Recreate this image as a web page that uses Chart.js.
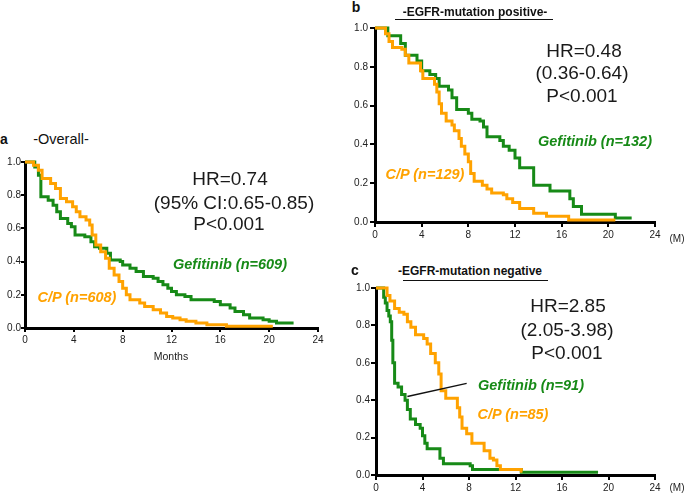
<!DOCTYPE html>
<html>
<head>
<meta charset="utf-8">
<title>Kaplan-Meier: Gefitinib vs C/P</title>
<script src="https://cdn.jsdelivr.net/npm/chart.js@4.4.1/dist/chart.umd.min.js"></script>
<style>
  body { margin: 0; width: 685px; height: 496px; position: relative; overflow: hidden; background: #fff;
         font-family: 'Liberation Sans', Arial, Helvetica, sans-serif; color: #111; }
  canvas { position: absolute; }
  .t { position: absolute; white-space: nowrap; transform: translate(-50%, -50%); line-height: 1; }
  .hr { font-size: 19px; color: #1a1a1a; }
  .lab { font-size: 14.5px; font-weight: bold; font-style: italic; }
  .gef { color: #178a17; }
  .cp { color: #ffa200; }
  .panel { font-size: 14px; font-weight: bold; }
  .sub { font-size: 12px; font-weight: bold; }
  .ul { position: absolute; height: 0; border-top: 1.5px solid #111; }
  .small { font-size: 10px; color: #222; }
</style>
</head>
<body>
<canvas id="chart-a" width="330" height="215" style="left:0px;top:150px"></canvas>
<canvas id="chart-b" width="325" height="235" style="left:345px;top:18px"></canvas>
<canvas id="chart-c" width="324" height="218" style="left:346px;top:278px"></canvas>

<!-- panel a -->
<div class="t panel" style="left:4px;top:139px">a</div>
<div class="t" style="left:61px;top:139px;font-size:14.5px">-Overall-</div>
<div class="t hr" style="left:230px;top:178px">HR=0.74</div>
<div class="t hr" style="left:234px;top:202px">(95% CI:0.65-0.85)</div>
<div class="t hr" style="left:229px;top:223px">P&lt;0.001</div>
<div class="t lab gef" style="left:230px;top:264px">Gefitinib (n=609)</div>
<div class="t lab cp" style="left:77px;top:297px">C/P (n=608)</div>
<div class="t small" style="left:171px;top:356px;font-size:10.5px">Months</div>

<!-- panel b -->
<div class="t panel" style="left:356px;top:7px">b</div>
<div class="t sub" style="left:475px;top:12px">-EGFR-mutation positive-</div>
<div class="ul" style="left:395px;top:19px;width:158px"></div>
<div class="t hr" style="left:584px;top:50px">HR=0.48</div>
<div class="t hr" style="left:582px;top:72px">(0.36-0.64)</div>
<div class="t hr" style="left:582px;top:95px">P&lt;0.001</div>
<div class="t lab gef" style="left:595px;top:141px">Gefitinib (n=132)</div>
<div class="t lab cp" style="left:425px;top:174px">C/P (n=129)</div>
<div class="t small" style="left:677px;top:239px">(M)</div>

<!-- panel c -->
<div class="t panel" style="left:355px;top:270px">c</div>
<div class="t sub" style="left:470px;top:271px">-EGFR-mutation negative</div>
<div class="ul" style="left:403px;top:280px;width:145px"></div>
<div class="t hr" style="left:568px;top:305px">HR=2.85</div>
<div class="t hr" style="left:567px;top:329px">(2.05-3.98)</div>
<div class="t hr" style="left:567px;top:352px">P&lt;0.001</div>
<div class="t lab gef" style="left:531px;top:385px">Gefitinib (n=91)</div>
<div class="t lab cp" style="left:513px;top:414px">C/P (n=85)</div>
<div class="t small" style="left:677px;top:488px">(M)</div>

<script>
// tick values
const monthTicks = [0, 4, 8, 12, 16, 20, 24];
const survTicks = [0, 0.2, 0.4, 0.6, 0.8, 1.0];

// a: overall
const gefA_t = [0, 0.8, 1.1, 1.3, 1.9, 2.3, 2.6, 2.9, 3.5, 3.8, 4.1, 4.9, 5.4, 5.7, 6.1, 6.7, 7.0, 7.8, 8.0, 8.6, 9.1, 9.7, 10.5, 10.9, 11.3, 11.7, 12.0, 12.4, 13.1, 13.6, 15.5, 16.0, 16.8, 17.2, 17.9, 18.4, 19.5, 20.0, 20.6, 22.0];
const gefA_s = [1.0, 0.97, 0.92, 0.79, 0.77, 0.74, 0.70, 0.66, 0.63, 0.61, 0.56, 0.55, 0.52, 0.49, 0.48, 0.45, 0.41, 0.40, 0.38, 0.36, 0.34, 0.31, 0.30, 0.28, 0.26, 0.24, 0.22, 0.20, 0.19, 0.17, 0.16, 0.14, 0.12, 0.10, 0.08, 0.06, 0.05, 0.04, 0.03, 0.03];
const cpA_t = [0, 0.7, 1.1, 1.4, 2.1, 2.5, 2.9, 3.4, 3.9, 4.2, 4.5, 5.0, 5.3, 5.5, 5.8, 6.2, 6.6, 6.9, 7.3, 7.7, 8.0, 8.3, 8.6, 9.4, 9.8, 10.5, 11.1, 11.6, 12.1, 12.7, 13.2, 14.0, 14.9, 16.5, 20.3];
const cpA_s = [1.0, 0.98, 0.95, 0.90, 0.87, 0.84, 0.78, 0.76, 0.73, 0.70, 0.67, 0.65, 0.62, 0.56, 0.50, 0.46, 0.42, 0.36, 0.32, 0.28, 0.24, 0.20, 0.17, 0.15, 0.13, 0.11, 0.09, 0.07, 0.06, 0.05, 0.04, 0.03, 0.02, 0.01, 0.01];

// b: EGFR-mutation positive
const gefB_t = [0, 1.1, 2.2, 2.6, 3.6, 4.0, 4.7, 5.2, 5.5, 6.3, 6.6, 7.0, 8.0, 8.3, 9.0, 9.3, 9.6, 10.7, 11.0, 11.5, 12.0, 12.4, 13.6, 15.0, 16.7, 17.0, 17.7, 20.6, 22.0];
const gefB_s = [1.0, 0.96, 0.92, 0.86, 0.83, 0.78, 0.76, 0.74, 0.70, 0.68, 0.64, 0.58, 0.56, 0.53, 0.52, 0.49, 0.44, 0.42, 0.39, 0.37, 0.33, 0.28, 0.19, 0.16, 0.12, 0.08, 0.04, 0.02, 0.02];
const cpB_t = [0, 0.9, 1.2, 1.5, 2.3, 2.6, 2.9, 3.9, 4.1, 5.1, 5.3, 5.5, 5.7, 6.1, 6.6, 6.8, 7.2, 7.4, 7.7, 8.0, 8.2, 8.5, 9.2, 9.6, 10.0, 11.0, 11.3, 11.8, 12.4, 13.6, 14.7, 16.6, 20.6];
const cpB_s = [1.0, 0.97, 0.93, 0.90, 0.89, 0.86, 0.82, 0.78, 0.74, 0.71, 0.67, 0.61, 0.56, 0.52, 0.50, 0.47, 0.43, 0.39, 0.35, 0.31, 0.25, 0.21, 0.19, 0.17, 0.15, 0.14, 0.12, 0.10, 0.07, 0.045, 0.03, 0.01, 0.01];

// c: EGFR-mutation negative
const gefC_t = [0, 0.66, 0.8, 0.95, 1.1, 1.23, 1.35, 1.45, 1.6, 1.9, 2.2, 2.5, 2.7, 2.95, 3.4, 3.8, 4.0, 4.2, 4.4, 5.5, 5.8, 8.1, 8.3, 12.5, 19.1];
const gefC_s = [1.0, 0.95, 0.92, 0.88, 0.85, 0.82, 0.72, 0.60, 0.49, 0.47, 0.43, 0.40, 0.35, 0.30, 0.27, 0.25, 0.21, 0.17, 0.14, 0.09, 0.06, 0.05, 0.03, 0.015, 0.015];
const cpC_t = [0, 0.95, 1.2, 1.6, 2.0, 2.4, 2.7, 3.0, 3.4, 4.1, 4.4, 4.7, 5.1, 5.4, 5.6, 6.0, 7.0, 7.2, 7.4, 7.8, 8.25, 9.3, 9.8, 10.1, 10.4, 10.7, 12.5, 12.6];
const cpC_s = [1.0, 0.96, 0.93, 0.89, 0.87, 0.86, 0.82, 0.79, 0.75, 0.73, 0.70, 0.65, 0.60, 0.54, 0.45, 0.41, 0.36, 0.31, 0.25, 0.22, 0.17, 0.13, 0.09, 0.08, 0.05, 0.03, 0.02, 0.02];

// pointer from label to the gefitinib curve in panel c (month, survival)
const pointerC = [[2.7, 0.42], [7.8, 0.49]];

const GREEN = '#178a17';
const ORANGE = '#ffa200';
const FONT = "'Liberation Sans', Arial, Helvetica, sans-serif";

function kmPoints(t, s) {
    return t.map((x, i) => ({ x: x, y: s[i] }));
}

function curve(label, t, s, color) {
    return {
        label: label,
        data: kmPoints(t, s),
        borderColor: color,
        backgroundColor: color,
        borderWidth: 3,
        stepped: true,
        pointRadius: 0,
        fill: false,
        clip: false,
        borderCapStyle: 'butt',
        borderJoinStyle: 'miter'
    };
}

const pointerPlugin = {
    id: 'pointer',
    afterDatasetsDraw(chart) {
        const { ctx, scales: { x, y } } = chart;
        ctx.save();
        ctx.strokeStyle = '#111';
        ctx.lineWidth = 1.5;
        ctx.beginPath();
        ctx.moveTo(x.getPixelForValue(pointerC[0][0]), y.getPixelForValue(pointerC[0][1]));
        ctx.lineTo(x.getPixelForValue(pointerC[1][0]), y.getPixelForValue(pointerC[1][1]));
        ctx.stroke();
        ctx.restore();
    }
};

/**
 * Kaplan-Meier panel
 */
function createKMChart(id, gef, cp, box, extra) {
    const ctx = document.getElementById(id);
    if (!ctx) return;

    const axisGrid = { display: true, drawOnChartArea: false, drawTicks: true, tickLength: box.tick, color: '#000', lineWidth: 2 };
    const axisBorder = { display: true, color: '#000', width: 3 };
    const tickFont = { family: FONT, size: 10 };

    return new Chart(ctx, {
        type: 'line',
        data: {
            datasets: [
                curve('C/P', cp[0], cp[1], ORANGE),
                curve('Gefitinib', gef[0], gef[1], GREEN)
            ]
        },
        options: {
            responsive: false,
            animation: false,
            events: [],
            layout: { padding: { top: box.top, right: box.right, left: 0, bottom: 0 } },
            plugins: {
                legend: { display: false },
                tooltip: { enabled: false }
            },
            scales: {
                x: {
                    type: 'linear',
                    min: 0,
                    max: 24,
                    afterBuildTicks: s => { s.ticks = monthTicks.map(v => ({ value: v })); },
                    afterFit: s => { s.height = box.xh; },
                    grid: axisGrid,
                    border: axisBorder,
                    ticks: { font: tickFont, color: '#222', padding: 2, maxRotation: 0, autoSkip: false }
                },
                y: {
                    type: 'linear',
                    min: 0,
                    max: 1,
                    afterBuildTicks: s => { s.ticks = survTicks.map(v => ({ value: v })); },
                    afterFit: s => { s.width = box.yw; },
                    grid: axisGrid,
                    border: axisBorder,
                    ticks: { font: tickFont, color: '#222', padding: box.ypad, callback: v => v.toFixed(1) }
                }
            }
        },
        plugins: extra ? [extra] : []
    });
}

createKMChart('chart-a', [gefA_t, gefA_s], [cpA_t, cpA_s], { top: 12, right: 12, xh: 37, yw: 25, tick: 4, ypad: 0 });
createKMChart('chart-b', [gefB_t, gefB_s], [cpB_t, cpB_s], { top: 10, right: 15, xh: 31, yw: 30, tick: 5, ypad: 2 });
createKMChart('chart-c', [gefC_t, gefC_s], [cpC_t, cpC_s], { top: 10, right: 15, xh: 21, yw: 30, tick: 5, ypad: 1 }, pointerPlugin);
</script>
</body>
</html>
